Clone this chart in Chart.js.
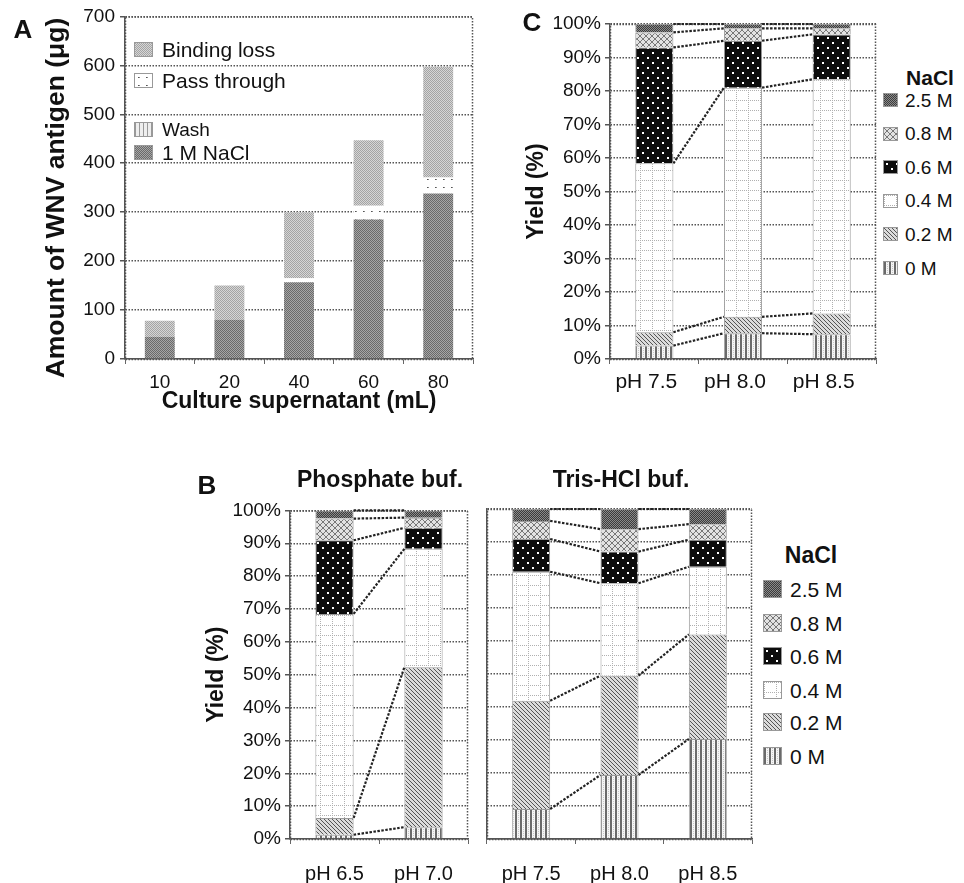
<!DOCTYPE html>
<html>
<head>
<meta charset="utf-8">
<title>WNV antigen yield</title>
<script src="https://cdn.jsdelivr.net/npm/chart.js@4.4.0/dist/chart.umd.min.js"></script>
<style>
  body { margin: 0; background: #fff; font-family: 'Liberation Sans', Arial, sans-serif; color: #111; }
  #wrap { position: relative; width: 964px; height: 883px; overflow: hidden; }
  canvas { position: absolute; }
  .txt { position: absolute; white-space: nowrap; line-height: 1; transform: translate(-50%, -50%); }
  .b { font-weight: bold; }
  .row { position: absolute; white-space: nowrap; display: flex; align-items: center; line-height: 1; }
  .sw { display: inline-block; box-sizing: border-box; border: 1px solid #999; }
</style>
</head>
<body>
<div id="wrap">
  <canvas id="chartA" width="480" height="420" style="left:0;top:0"></canvas>
  <canvas id="chartC" width="360" height="400" style="left:520px;top:0"></canvas>
  <canvas id="chartP" width="272" height="388" style="left:200px;top:495px"></canvas>
  <canvas id="chartT" width="276" height="388" style="left:480px;top:495px"></canvas>

  <div class="txt b" style="left:23px;top:29px;font-size:26px">A</div>
  <div class="txt b" style="left:55px;top:198px;font-size:26.5px;transform:translate(-50%,-50%) rotate(-90deg)">Amount of WNV antigen (&#956;g)</div>
  <div class="txt b" style="left:532px;top:22px;font-size:26px">C</div>
  <div class="txt b" style="left:207px;top:485px;font-size:26px">B</div>
  <div class="txt b" style="left:380px;top:479px;font-size:23px">Phosphate buf.</div>
  <div class="txt b" style="left:621px;top:479px;font-size:23px">Tris-HCl buf.</div>
  <div id="legA"></div>
  <div id="legC"></div>
  <div id="legB"></div>
</div>

<script>
(function () {
  'use strict';

  // ---------- data ----------
  // Panel A: amount of WNV antigen (ug) per culture supernatant volume
  const volumes = ['10', '20', '40', '60', '80'];
  const naclEluted = [45, 80, 157, 285, 338];
  const washLoss = [0, 0, 0, 0, 0];
  const passThrough = [0, 0, 8, 28, 33];
  const bindingLoss = [33, 70, 135, 134, 226];

  // NaCl step labels (legend order, top to bottom)
  const saltLabels = ['2.5 M', '0.8 M', '0.6 M', '0.4 M', '0.2 M', '0 M'];

  // Panel C: yield (%) per pH
  const phC = ['pH 7.5', 'pH 8.0', 'pH 8.5'];
  const c0M = [4.0, 7.7, 7.4];
  const c02M = [4.0, 4.9, 6.2];
  const c04M = [50.4, 68.4, 69.9];
  const c06M = [34.6, 14.0, 13.4];
  const c08M = [4.5, 3.7, 1.8];
  const c25M = [2.5, 1.3, 1.3];

  // Panel B: phosphate buffer
  const phPhos = ['pH 6.5', 'pH 7.0'];
  const p0M = [1.3, 3.6];
  const p02M = [5.1, 48.7];
  const p04M = [62.1, 36.0];
  const p06M = [22.4, 6.4];
  const p08M = [6.6, 3.1];
  const p25M = [2.5, 2.2];

  // Panel B: Tris-HCl buffer
  const phTris = ['pH 7.5', 'pH 8.0', 'pH 8.5'];
  const t0M = [9.1, 19.4, 30.3];
  const t02M = [32.8, 30.1, 31.7];
  const t04M = [39.1, 28.0, 20.5];
  const t06M = [9.9, 9.6, 8.2];
  const t08M = [5.5, 6.8, 4.7];
  const t25M = [3.6, 6.1, 4.6];

  const yieldTicks = [0, 10, 20, 30, 40, 50, 60, 70, 80, 90, 100];

  Chart.defaults.font.family = "'Liberation Sans', Arial, sans-serif";
  Chart.defaults.color = '#111';

  // ---------- fill patterns ----------
  function tile(w, h, draw) {
    const c = document.createElement('canvas');
    c.width = w; c.height = h;
    const g = c.getContext('2d');
    draw(g, w, h);
    return c;
  }
  function px(g, x, y, col) { g.fillStyle = col; g.fillRect(x, y, 1, 1); }

  const tiles = {
    dark: tile(2, 2, (g) => { g.fillStyle = '#8a8a8a'; g.fillRect(0, 0, 2, 2); px(g, 0, 0, '#3c3c3c'); px(g, 1, 1, '#3c3c3c'); }),
    cross: tile(6, 6, (g) => {
      g.fillStyle = '#e2e2e2'; g.fillRect(0, 0, 6, 6);
      for (let i = 0; i < 6; i++) { px(g, i, i, '#777'); px(g, 5 - i, i, '#777'); }
    }),
    blackDots: tile(10, 10, (g) => {
      g.fillStyle = '#0c0c0c'; g.fillRect(0, 0, 10, 10);
      g.fillStyle = '#fff'; g.fillRect(2, 2, 2, 2); g.fillRect(7, 7, 2, 2);
    }),
    grid: tile(12, 10, (g) => {
      g.fillStyle = '#fff'; g.fillRect(0, 0, 12, 10);
      for (let y = 0; y < 10; y += 2) px(g, 0, y, '#b0b0b0');
      for (let x = 0; x < 12; x += 2) px(g, x, 0, '#b0b0b0');
    }),
    diag: tile(4, 4, (g) => {
      g.fillStyle = '#dcdcdc'; g.fillRect(0, 0, 4, 4);
      for (let i = 0; i < 4; i++) px(g, i, i, '#555');
    }),
    vert: tile(5, 2, (g) => {
      g.fillStyle = '#f4f4f4'; g.fillRect(0, 0, 5, 2);
      g.fillStyle = '#6a6a6a'; g.fillRect(0, 0, 2, 2);
      px(g, 3, 0, '#c8c8c8');
    }),
    naclA: tile(2, 2, (g) => { g.fillStyle = '#a6a6a6'; g.fillRect(0, 0, 2, 2); px(g, 0, 0, '#6a6a6a'); px(g, 1, 1, '#6a6a6a'); }),
    lossA: tile(2, 2, (g) => { g.fillStyle = '#d6d6d6'; g.fillRect(0, 0, 2, 2); px(g, 0, 0, '#a4a4a4'); px(g, 1, 1, '#a4a4a4'); }),
    passA: tile(8, 8, (g) => { g.fillStyle = '#fff'; g.fillRect(0, 0, 8, 8); px(g, 3, 3, '#555'); px(g, 4, 3, '#888'); }),
    washA: tile(4, 2, (g) => { g.fillStyle = '#eee'; g.fillRect(0, 0, 4, 2); g.fillStyle = '#999'; g.fillRect(0, 0, 1, 2); })
  };
  const pat = (k) => document.createElement('canvas').getContext('2d').createPattern(tiles[k], 'repeat');

  // bottom -> top stacking order for the NaCl series
  const saltTiles = ['vert', 'diag', 'grid', 'blackDots', 'cross', 'dark'];

  // ---------- plugins ----------
  const frame = {
    id: 'frame',
    beforeDatasetsDraw(chart) {
      const { ctx, chartArea: a } = chart;
      ctx.save();
      ctx.strokeStyle = '#555';
      ctx.lineWidth = 1.5;
      ctx.setLineDash([1.5, 1.5]);
      ctx.strokeRect(a.left + 0.5, a.top + 0.5, a.right - a.left - 1, a.bottom - a.top);
      ctx.restore();
    }
  };

  const connectors = {
    id: 'connectors',
    afterDatasetsDraw(chart, args, opts) {
      if (!opts.show) return;
      const ctx = chart.ctx;
      ctx.save();
      ctx.strokeStyle = '#222';
      ctx.lineWidth = 2.2;
      ctx.setLineDash([2.5, 1.5]);
      chart.data.datasets.forEach((ds, d) => {
        const bars = chart.getDatasetMeta(d).data;
        for (let i = 0; i < bars.length - 1; i++) {
          const a = bars[i], b = bars[i + 1];
          ctx.beginPath();
          ctx.moveTo(a.x + a.width / 2, a.y);
          ctx.lineTo(b.x - b.width / 2, b.y);
          ctx.stroke();
        }
      });
      ctx.restore();
    }
  };

  const gridStyle = { color: '#555', lineWidth: 1.5, tickLength: 5, borderDash: [1.5, 1.5] };
  const axisBorder = { color: '#555', width: 1.5, dash: [1.5, 1.5] };

  // ---------- panel A ----------
  new Chart(document.getElementById('chartA'), {
    type: 'bar',
    data: {
      labels: volumes,
      datasets: [
        { label: '1 M NaCl', data: naclEluted, backgroundColor: pat('naclA') },
        { label: 'Wash', data: washLoss, backgroundColor: pat('washA') },
        { label: 'Pass through', data: passThrough, backgroundColor: pat('passA') },
        { label: 'Binding loss', data: bindingLoss, backgroundColor: pat('lossA') }
      ].map(d => Object.assign(d, { borderWidth: 0, categoryPercentage: 1, barPercentage: 0.43 }))
    },
    plugins: [frame],
    options: {
      responsive: false, animation: false, devicePixelRatio: 1,
      layout: { padding: { top: 16, right: 7, left: 0, bottom: 0 } },
      plugins: { legend: { display: false }, tooltip: { enabled: false } },
      scales: {
        x: {
          stacked: true,
          afterFit: (s) => { s.height = 61; },
          grid: { drawOnChartArea: false, drawTicks: true, tickLength: 5, color: '#666' },
          border: axisBorder,
          ticks: { font: { size: 19 }, padding: 7 },
          title: { display: true, text: 'Culture supernatant (mL)', font: { size: 23, weight: 'bold' }, padding: { top: 0, bottom: 5 } }
        },
        y: {
          stacked: true, min: 0, max: 700,
          afterFit: (s) => { s.width = 125; },
          grid: gridStyle,
          border: axisBorder,
          ticks: { stepSize: 100, font: { size: 19 }, padding: 5 }
        }
      }
    }
  });

  // ---------- yield charts (B, C) ----------
  function yieldChart(id, labels, series, o) {
    const datasets = series.map((vals, k) => ({
      label: saltLabels[5 - k],
      data: vals,
      backgroundColor: pat(saltTiles[k]),
      borderColor: '#9a9a9a',
      borderWidth: 1,
      categoryPercentage: 1,
      barPercentage: 0.43
    }));
    return new Chart(document.getElementById(id), {
      type: 'bar',
      data: { labels: labels, datasets: datasets },
      plugins: [frame, connectors],
      options: {
        responsive: false, animation: false, devicePixelRatio: 1,
        layout: { padding: { top: o.top, right: 4, left: 0, bottom: 0 } },
        plugins: { legend: { display: false }, tooltip: { enabled: false }, connectors: { show: true } },
        scales: {
          x: {
            stacked: true,
            afterFit: (s) => { s.height = o.xh; },
            grid: { drawOnChartArea: false, drawTicks: true, tickLength: 5, color: '#666' },
            border: axisBorder,
            ticks: { font: { size: o.xFont }, padding: o.xPad, labelOffset: o.xOff || 0 }
          },
          y: {
            stacked: true, min: 0, max: 100,
            afterFit: (s) => { s.width = o.yw; },
            afterBuildTicks: (s) => { s.ticks = yieldTicks.map(v => ({ value: v })); },
            grid: Object.assign({}, gridStyle, { drawTicks: o.yLabels }),
            border: axisBorder,
            ticks: { display: o.yLabels, font: { size: 19 }, padding: 4, callback: (v) => v + '%' },
            title: { display: o.yLabels, text: 'Yield (%)', font: { size: 23, weight: 'bold' }, padding: { top: 3, bottom: 0 } }
          }
        }
      }
    });
  }

  yieldChart('chartC', phC, [c0M, c02M, c04M, c06M, c08M, c25M],
    { top: 24, xh: 41, yw: 90, xFont: 21, xPad: 6, xOff: -8, yLabels: true });
  yieldChart('chartP', phPhos, [p0M, p02M, p04M, p06M, p08M, p25M],
    { top: 14, xh: 44, yw: 90, xFont: 20, xPad: 18, yLabels: true });
  yieldChart('chartT', phTris, [t0M, t02M, t04M, t06M, t08M, t25M],
    { top: 14, xh: 44, yw: 7, xFont: 20, xPad: 18, yLabels: false });

  // ---------- legends ----------
  function legend(hostId, items, cfg) {
    const host = document.getElementById(hostId);
    if (cfg.title) {
      const t = document.createElement('div');
      t.className = 'txt b';
      t.style.cssText = `left:${cfg.titleX}px;top:${cfg.titleY}px;font-size:${cfg.titleSize}px`;
      t.textContent = cfg.title;
      host.appendChild(t);
    }
    items.forEach((it) => {
      const row = document.createElement('div');
      row.className = 'row';
      row.style.cssText = `left:${cfg.x}px;top:${it.y - 12}px;height:24px;font-size:${it.size || cfg.size}px`;
      const sw = document.createElement('span');
      sw.className = 'sw';
      sw.style.cssText = `width:${cfg.bw}px;height:${cfg.bh}px;margin-right:${cfg.gap}px;background-image:url(${tiles[it.tile].toDataURL()})`;
      row.appendChild(sw);
      row.appendChild(document.createTextNode(it.label));
      host.appendChild(row);
    });
  }

  legend('legA', [
    { label: 'Binding loss', tile: 'lossA', y: 49 },
    { label: 'Pass through', tile: 'passA', y: 80 },
    { label: 'Wash', tile: 'washA', y: 129, size: 19 },
    { label: '1 M NaCl', tile: 'naclA', y: 152 }
  ], { x: 134, size: 21, bw: 19, bh: 15, gap: 9 });

  const cRows = [100, 133.5, 167, 200.5, 234, 268];
  legend('legC', saltLabels.map((l, i) => ({ label: l, tile: saltTiles[5 - i], y: cRows[i] })),
    { x: 883, size: 19, bw: 15, bh: 14, gap: 7, title: 'NaCl', titleX: 930, titleY: 77, titleSize: 21 });

  const bRows = [589, 623, 656, 690, 722, 756];
  legend('legB', saltLabels.map((l, i) => ({ label: l, tile: saltTiles[5 - i], y: bRows[i] })),
    { x: 763, size: 21, bw: 19, bh: 18, gap: 8, title: 'NaCl', titleX: 811, titleY: 555, titleSize: 23 });
})();
</script>
</body>
</html>
